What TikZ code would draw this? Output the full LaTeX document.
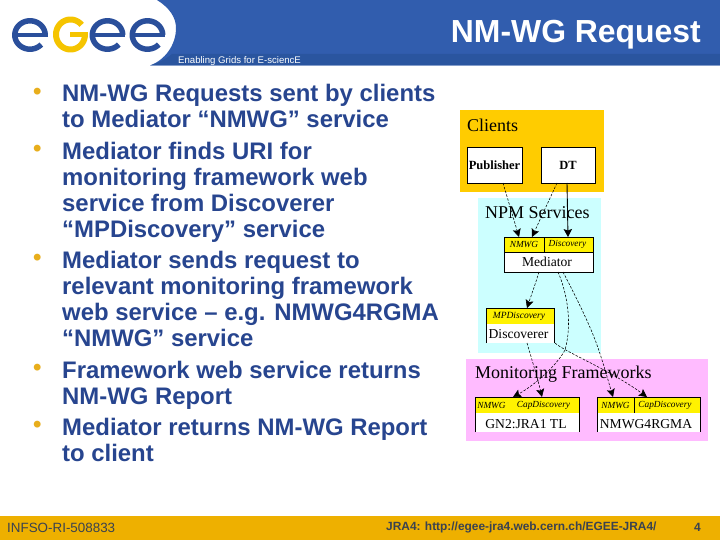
\documentclass[tikz,border=0pt]{standalone}
\usepackage{fontspec}
\setmainfont{Liberation Sans}
\newfontfamily\serifdiag{Liberation Serif}
\usetikzlibrary{arrows.meta}
\definecolor{hdrblue}{HTML}{315DAE}
\definecolor{hdrband}{HTML}{2A559F}
\definecolor{footgold}{HTML}{EEB000}
\definecolor{bodyink}{HTML}{27458F}
\definecolor{dotgold}{HTML}{E8AE1C}
\definecolor{footink}{HTML}{3A4250}
\definecolor{logoblue}{HTML}{2A4F9B}
\definecolor{logogold}{HTML}{F5C400}
\definecolor{clientbg}{HTML}{FFCC00}
\definecolor{npmbg}{HTML}{CCFFFF}
\definecolor{monbg}{HTML}{FFBBFF}
\tikzset{
  bul/.style={anchor=north west,inner sep=0pt,align=left,text=bodyink,font=\fontsize{23.9}{26}\selectfont\bfseries},
  dot/.style={anchor=north west,inner sep=0pt,text=dotgold,font=\fontsize{23.9}{26}\selectfont\bfseries},
  grp/.style={anchor=west,inner sep=0pt,font=\serifdiag\fontsize{18}{18}\selectfont},
  boxw/.style={draw=black,line width=0.9pt,fill=white},
  portf/.style={fill=yellow},
  portl/.style={inner sep=0pt,font=\serifdiag\itshape\fontsize{9.3}{10}\selectfont},
  svc/.style={inner sep=0pt,font=\serifdiag\fontsize{13.6}{14}\selectfont},
  dasharrow/.style={draw=black,line width=0.55pt,dash pattern=on 2.5pt off 1.5pt,-{Stealth[length=8pt,width=8pt,inset=1.5pt]}},
  solidarrow/.style={draw=black,line width=0.9pt,-{Stealth[length=8pt,width=8.5pt,inset=1.5pt]}},
  logostroke/.style={line width=5.5pt,line cap=butt}
}
\begin{document}
\begin{tikzpicture}[x=1pt,y=-1pt]
\useasboundingbox (0,0) rectangle (720,540);
\fill[white] (0,0) rectangle (720,540);
% header
\fill[hdrblue] (157,0) .. controls (170,8) and (176,18) .. (176,28) .. controls (176,45) and (165,60) .. (150,65.5) -- (720,65.5) -- (720,0) -- cycle;
\fill[hdrband] (172,54) .. controls (166,59) and (158,63) .. (150,65.5) -- (720,65.5) -- (720,54) -- cycle;
\node[anchor=base west,inner sep=0pt,text=white,font=\fontsize{9.6}{10}\selectfont] (tagline) at (178,63.5) {Enabling Grids for E-sciencE};
\node[anchor=east,inner sep=0pt,text=white,font=\fontsize{31.9}{33}\selectfont\bfseries] (title) at (701,35) {NM-WG Request};
% logo
\foreach \cx in {30,107.5,147.5}{
  \draw[logoblue,logostroke] plot[domain=0:318,samples=50,variable=\t] ({\cx+15.2*cos(\t)},{35-14.2*sin(\t)});
  \draw[logoblue,line width=4.5pt] (\cx-15.2,35) -- (\cx+17.9,35);
}
\draw[logogold,line width=6pt] plot[domain=40:360,samples=50,variable=\t] ({70.5+14.5*cos(\t)},{34.5-15*sin(\t)});
\draw[logogold,line width=5pt] (70,34.5) -- (88,34.5);
% bullets
\foreach \yy/\nm in {88/a,145/b,254/c,364/d,421/e}{
  \node[dot] (dot\nm) at (33,\yy) {•};
}
\node[bul] (b1) at (62,84) {NM-WG Requests sent by clients\\to Mediator “NMWG” service};
\node[bul] (b2) at (62,141.5) {Mediator finds URI for\\monitoring framework web\\service from Discoverer\\“MPDiscovery” service};
\node[bul] (b3) at (62,250.5) {Mediator sends request to\\relevant monitoring framework\\web service – e.g. NMWG4RGMA\\“NMWG” service};
\node[bul] (b4) at (62,360.5) {Framework web service returns\\NM-WG Report};
\node[bul] (b5) at (62,417.5) {Mediator returns NM-WG Report\\to client};
% group backgrounds
\fill[clientbg] (460,110) rectangle (604,192);
\fill[npmbg] (478,198) rectangle (601,353);
\fill[monbg] (466,359) rectangle (708,441);
\node[grp] (clients) at (467,125) {Clients};
\node[grp] (npm) at (485,213) {NPM Services};
\node[grp] (mon) at (475,374) {Monitoring Frameworks};
% clients boxes
\node[boxw,minimum width=55pt,minimum height=36pt,inner sep=0pt,font=\serifdiag\fontsize{12.5}{13}\selectfont\bfseries] (pub) at (494.5,165) {Publisher};
\node[boxw,minimum width=54pt,minimum height=36pt,inner sep=0pt,font=\serifdiag\fontsize{12.5}{13}\selectfont\bfseries] (dt) at (568,165) {DT};
% mediator
\fill[white] (504,252) rectangle (593,272);
\fill[portf] (504,237) rectangle (593,252);
\draw[black,line width=0.9pt] (504,237) rectangle (593,272);
\draw[black,line width=0.9pt] (504,252) -- (593,252) (544,237) -- (544,252);
\node[portl] (mednmwg) at (524,244.5) {NMWG};
\node[portl] (meddisc) at (567.5,244.5) {Discovery};
\node[svc] (mediator) at (547,262) {Mediator};
% discoverer
\fill[white] (486,324) rectangle (554,343);
\fill[portf] (486,308) rectangle (554,324);
\draw[black,line width=0.9pt] (486,343) -- (486,308) -- (554,308) -- (554,343);
\node[portl,font=\serifdiag\itshape\fontsize{9.5}{10}\selectfont] (mpd) at (519,316) {MPDiscovery};
\node[svc] (discoverer) at (518.5,334) {Discoverer};
% GN2
\fill[white] (475,413) rectangle (579,432);
\fill[portf] (475,397) rectangle (579,413);
\draw[black,line width=0.9pt] (475,432) -- (475,397) -- (579,397) -- (579,432);
\node[portl] (gnnmwg) at (491.5,405) {NMWG};
\node[portl] (gncap) at (543.5,405) {CapDiscovery};
\node[svc] (gn) at (526,424) {GN2:JRA1 TL};
% NMWG4RGMA
\fill[white] (597,413) rectangle (700,432);
\fill[portf] (597,397) rectangle (700,413);
\draw[black,line width=0.9pt] (597,432) -- (597,397) -- (700,397) -- (700,432);
\draw[black,line width=0.9pt] (634,397) -- (634,413);
\node[portl] (rgnmwg) at (615.5,405) {NMWG};
\node[portl] (rgcap) at (665,405) {CapDiscovery};
\node[svc] (rg) at (646,424) {NMWG4RGMA};
% connector anchor points
\coordinate (pubout) at (503,183);
\coordinate (medin1) at (519,237);
\coordinate (dtout1) at (557,183);
\coordinate (medin2) at (532,237);
\coordinate (dtout2) at (567,183);
\coordinate (medin3) at (568,237);
\coordinate (medout1) at (539,272);
\coordinate (mpdin) at (527,308);
\coordinate (medout2) at (558,272);
\coordinate (gnin1) at (513,397);
\coordinate (medout3) at (563,272);
\coordinate (rgin1) at (613,397);
\coordinate (discout1) at (527,343);
\coordinate (gnin2) at (542,397);
\coordinate (discout2) at (555,343);
\coordinate (rgin2) at (647,397);
\draw[dasharrow] (pubout) -- (medin1);
\draw[dasharrow] (dtout1) -- (medin2);
\draw[solidarrow] (dtout2) -- (medin3);
\draw[dasharrow] (medout1) .. controls (535,285) and (531,296) .. (mpdin);
\draw[dasharrow] (medout2) .. controls (568,295) and (572,325) .. (565,350) .. controls (557,365) and (535,385) .. (gnin1);
\draw[dasharrow] (medout3) .. controls (575,295) and (590,325) .. (597,345) .. controls (603,362) and (608,380) .. (rgin1);
\draw[dasharrow] (discout1) .. controls (532,360) and (538,380) .. (gnin2);
\draw[dasharrow] (discout2) .. controls (565,352) and (610,370) .. (rgin2);
% footer
\fill[footgold] (0,516) rectangle (720,540);
\node[anchor=west,inner sep=0pt,text=footink,font=\fontsize{13.4}{14}\selectfont] (fl) at (7,528) {INFSO-RI-508833};
\node[anchor=west,inner sep=0pt,text=footink,font=\fontsize{11.9}{13}\selectfont\bfseries] (fc) at (386,527) {JRA4: http://egee-jra4.web.cern.ch/EGEE-JRA4/};
\node[anchor=west,inner sep=0pt,text=footink,font=\fontsize{12}{13}\selectfont\bfseries] (fr) at (694,527) {4};
\end{tikzpicture}
\end{document}
